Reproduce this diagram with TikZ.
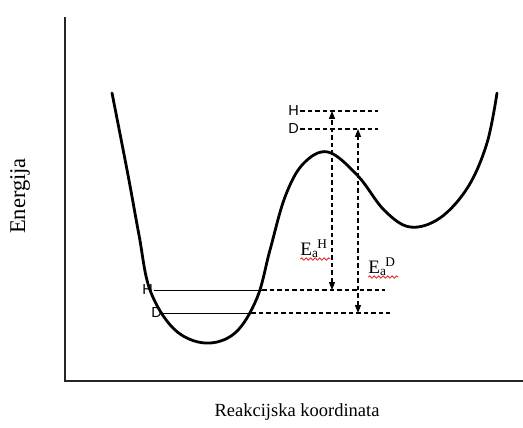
\documentclass[tikz,border=0pt]{standalone}
\usepackage{fontspec}
\setmainfont{Liberation Serif}
\newfontfamily\lvlfont{Liberation Sans}
\usetikzlibrary{arrows.meta,positioning,calc,decorations.pathmorphing}
\definecolor{squig}{HTML}{E02020}
\tikzset{
  axis/.style={draw=black!85,line width=1.5pt},
  pes/.style={draw=black,line width=2.8pt,line cap=round},
  lvl/.style={draw=black,line width=1pt},
  lvldash/.style={draw=black,line width=1.1pt,dash pattern=on 4.5pt off 3pt},
  barrier/.style={lvldash,{Triangle[length=8pt,width=6pt]}-{Triangle[length=8pt,width=6pt]}},
  lvllab/.style={font=\lvlfont\fontsize{14.5}{16}\selectfont,inner sep=1pt},
  ealab/.style={font=\fontsize{19}{22}\selectfont,inner sep=0pt},
  axlab/.style={font=\fontsize{18.5}{22}\selectfont},
  spell/.style={draw=squig,line width=0.8pt,decorate,
    decoration={snake,amplitude=1.2pt,segment length=4.5pt}},
}
\begin{document}
\begin{tikzpicture}[x=1pt,y=-1pt]
  \useasboundingbox (0,0) rectangle (523,428);
  % axes
  \coordinate (top) at (65,17);
  \coordinate (org) at (65,381);
  \coordinate (rgt) at (523,381);
  \draw[axis] (top)--(org)--(rgt);
  \node[axlab,font=\fontsize{22.5}{24}\selectfont,rotate=90] (ylab) at (20,196) {Energija};
  \node[axlab] (xlab) at (297,412) {Reakcijska koordinata};
  % potential energy curve
  \draw[pes] plot[smooth,tension=0.6] coordinates {
    (112,93) (128,175) (139,235) (150,290) (174,329) (205,343) (235,333)
    (257,298) (270,250) (285,197) (303,164) (328,152) (358,176)
    (384,210) (410,227) (440,218) (468,187) (487,143) (497,93)};
  % zero-point levels in the well
  \node[lvllab,anchor=east] (h0) at (154,290) {H};
  \node[lvllab,anchor=east] (d0) at (163,313) {D};
  \coordinate (h0r) at (262,290);
  \coordinate (d0r) at (251,313);
  \coordinate (h0e) at (385,290);
  \coordinate (d0e) at (390,313);
  \draw[lvl] (h0.east)--(h0r);
  \draw[lvl] (d0.east)--(d0r);
  \draw[lvldash] (h0r)--(h0e);
  \draw[lvldash] (d0r)--(d0e);
  % levels at the transition state
  \node[lvllab,anchor=east] (h1) at (300,111) {H};
  \node[lvllab,anchor=east] (d1) at (300,129) {D};
  \coordinate (h1e) at (378,111);
  \coordinate (d1e) at (378,129);
  \draw[lvldash] (h1.east)--(h1e);
  \draw[lvldash] (d1.east)--(d1e);
  % activation energies
  \draw[barrier] (332,290)--(332,111);
  \draw[barrier] (358,313)--(358,129);
  \node[ealab] (eah) at (314,249) {E\textsubscript{a}\kern-1pt\textsuperscript{H}};
  \node[ealab] (ead) at (382,267) {E\textsubscript{a}\kern-1pt\textsuperscript{D}};
  \draw[spell] ($(eah.south west)+(0,1)$)--++(30,0);
  \draw[spell] ($(ead.south west)+(0,1)$)--++(30,0);
\end{tikzpicture}
\end{document}
